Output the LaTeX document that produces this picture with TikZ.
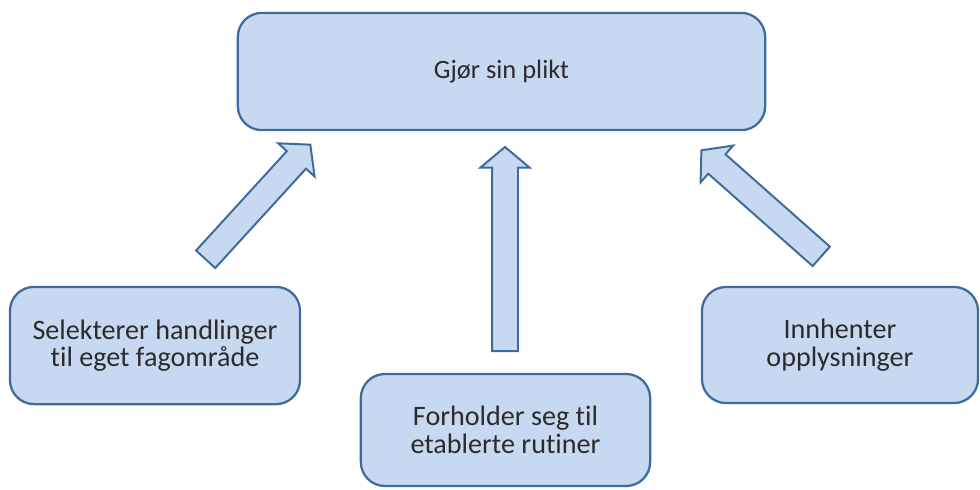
\documentclass[tikz,border=0pt]{standalone}
\usepackage{fontspec}
\setmainfont{Carlito}[Ligatures=NoCommon]
\usetikzlibrary{shapes.arrows}
\definecolor{boxfill}{HTML}{C6D9F1}
\definecolor{boxline}{HTML}{3F6A9C}
\definecolor{txtgray}{HTML}{2B2B2B}

\begin{document}
\begin{tikzpicture}[x=0.025cm, y=-0.025cm,
    task/.style={draw=boxline, fill=boxfill, line width=1.6pt, rounded corners=0.6cm,
      align=center, inner sep=0pt, text=txtgray, font=\fontsize{20}{19.5}\selectfont},
    uparrow/.style={draw=boxline, fill=boxfill, line width=1.4pt, shape=single arrow,
      single arrow head extend=0.29cm, single arrow tip angle=100,
      inner xsep=0pt, inner ysep=0.3cm, anchor=tail}]
    \useasboundingbox (0,0) rectangle (980,489);

    \node[task, minimum width=13.18cm, minimum height=2.93cm, font=\fontsize{18.8}{18}\selectfont] (plikt) at (501.5,71.5) {Gjør sin plikt};
    \node[task, minimum width=7.25cm, minimum height=2.93cm] (selekt) at (155,345.5) {Selekterer handlinger\\til eget fagområde};
    \node[task, minimum width=7.23cm, minimum height=2.8cm] (rutiner) at (505.5,430) {Forholder seg til\\etablerte rutiner};
    \node[task, minimum width=6.9cm, minimum height=2.9cm] (innhent) at (840,345) {Innhenter\\opplysninger};

    % block arrows up towards the top box
    \node[uparrow, rotate=47.6, minimum height=3.88cm] (pilV) at (205,260) {};
    \node[uparrow, rotate=90, minimum height=5.1cm] (pilM) at (505,352) {};
    \node[uparrow, rotate=138.5, minimum height=4cm] (pilH) at (822,257) {};
\end{tikzpicture}
\end{document}
